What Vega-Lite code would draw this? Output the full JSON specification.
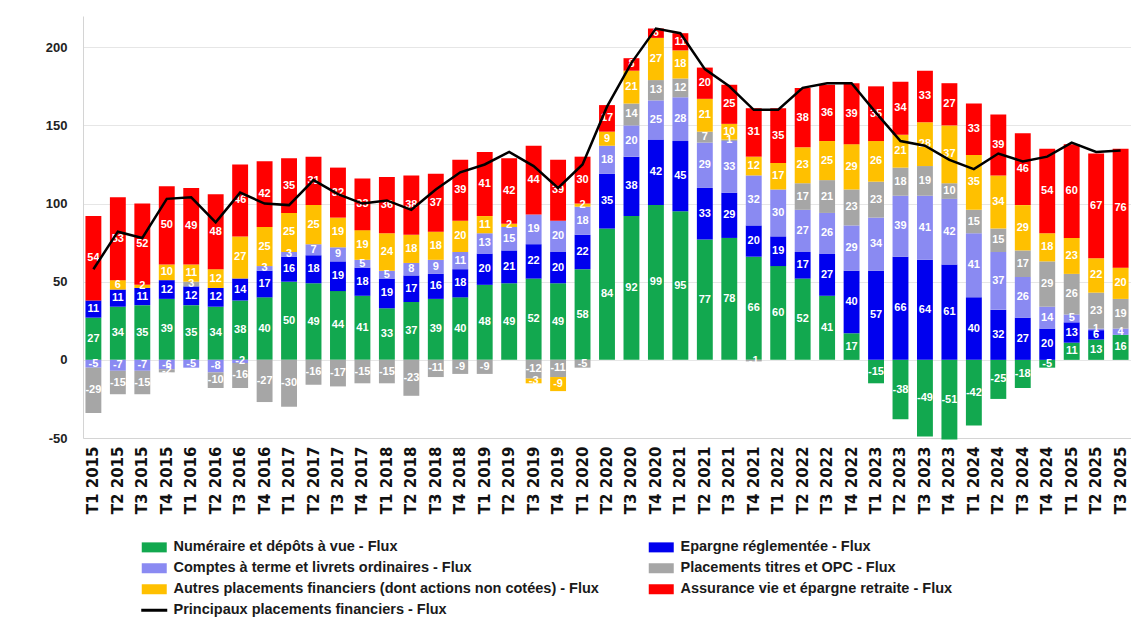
{
  "$schema": "https://vega.github.io/schema/vega-lite/v6.json",
  "width": 1048,
  "height": 422,
  "autosize": {"type": "none"},
  "padding": {"left": 83, "top": 16, "right": 0, "bottom": 179},
  "background": "white",
  "config": {"view": {"stroke": null}},
  "datasets": {
    "main": [
      {"q": "T1 2015", "N": 27, "E": 11, "C": -5, "P": -29, "A": 0, "V": 54, "T": 58},
      {"q": "T2 2015", "N": 34, "E": 11, "C": -7, "P": -15, "A": 6, "V": 53, "T": 82},
      {"q": "T3 2015", "N": 35, "E": 11, "C": -7, "P": -15, "A": 2, "V": 52, "T": 78},
      {"q": "T4 2015", "N": 39, "E": 12, "C": -6, "P": -2, "A": 10, "V": 50, "T": 103},
      {"q": "T1 2016", "N": 35, "E": 12, "C": -5, "P": 3, "A": 11, "V": 49, "T": 104},
      {"q": "T2 2016", "N": 34, "E": 12, "C": -8, "P": -10, "A": 12, "V": 48, "T": 88},
      {"q": "T3 2016", "N": 38, "E": 14, "C": -2, "P": -16, "A": 27, "V": 46, "T": 107},
      {"q": "T4 2016", "N": 40, "E": 17, "C": 3, "P": -27, "A": 25, "V": 42, "T": 100},
      {"q": "T1 2017", "N": 50, "E": 16, "C": 3, "P": -30, "A": 25, "V": 35, "T": 99},
      {"q": "T2 2017", "N": 49, "E": 18, "C": 7, "P": -16, "A": 25, "V": 31, "T": 115},
      {"q": "T3 2017", "N": 44, "E": 19, "C": 9, "P": -17, "A": 19, "V": 32, "T": 106},
      {"q": "T4 2017", "N": 41, "E": 18, "C": 5, "P": -15, "A": 19, "V": 33, "T": 100},
      {"q": "T1 2018", "N": 33, "E": 19, "C": 5, "P": -15, "A": 24, "V": 36, "T": 102},
      {"q": "T2 2018", "N": 37, "E": 17, "C": 8, "P": -23, "A": 18, "V": 38, "T": 96},
      {"q": "T3 2018", "N": 39, "E": 16, "C": 9, "P": -11, "A": 18, "V": 37, "T": 109},
      {"q": "T4 2018", "N": 40, "E": 18, "C": 11, "P": -9, "A": 20, "V": 39, "T": 120},
      {"q": "T1 2019", "N": 48, "E": 20, "C": 13, "P": -9, "A": 11, "V": 41, "T": 125},
      {"q": "T2 2019", "N": 49, "E": 21, "C": 15, "P": 0, "A": 2, "V": 42, "T": 133},
      {"q": "T3 2019", "N": 52, "E": 22, "C": 19, "P": -12, "A": -3, "V": 44, "T": 124},
      {"q": "T4 2019", "N": 49, "E": 20, "C": 20, "P": -11, "A": -9, "V": 39, "T": 110},
      {"q": "T1 2020", "N": 58, "E": 22, "C": 18, "P": -5, "A": 2, "V": 30, "T": 125},
      {"q": "T2 2020", "N": 84, "E": 35, "C": 18, "P": 0, "A": 9, "V": 17, "T": 162},
      {"q": "T3 2020", "N": 92, "E": 38, "C": 20, "P": 14, "A": 21, "V": 8, "T": 190},
      {"q": "T4 2020", "N": 99, "E": 42, "C": 25, "P": 13, "A": 27, "V": 6, "T": 212},
      {"q": "T1 2021", "N": 95, "E": 45, "C": 28, "P": 12, "A": 18, "V": 11, "T": 209},
      {"q": "T2 2021", "N": 77, "E": 33, "C": 29, "P": 7, "A": 21, "V": 20, "T": 186},
      {"q": "T3 2021", "N": 78, "E": 29, "C": 33, "P": 1, "A": 10, "V": 25, "T": 175},
      {"q": "T4 2021", "N": 66, "E": 20, "C": 32, "P": -1, "A": 12, "V": 31, "T": 160},
      {"q": "T1 2022", "N": 60, "E": 19, "C": 30, "P": 0, "A": 17, "V": 35, "T": 160},
      {"q": "T2 2022", "N": 52, "E": 17, "C": 27, "P": 17, "A": 23, "V": 38, "T": 174},
      {"q": "T3 2022", "N": 41, "E": 27, "C": 26, "P": 21, "A": 25, "V": 36, "T": 177},
      {"q": "T4 2022", "N": 17, "E": 40, "C": 29, "P": 23, "A": 29, "V": 39, "T": 177},
      {"q": "T1 2023", "N": -15, "E": 57, "C": 34, "P": 23, "A": 26, "V": 35, "T": 158},
      {"q": "T2 2023", "N": -38, "E": 66, "C": 39, "P": 18, "A": 21, "V": 34, "T": 140},
      {"q": "T3 2023", "N": -49, "E": 64, "C": 41, "P": 19, "A": 28, "V": 33, "T": 137},
      {"q": "T4 2023", "N": -51, "E": 61, "C": 42, "P": 10, "A": 37, "V": 27, "T": 128},
      {"q": "T1 2024", "N": -42, "E": 40, "C": 41, "P": 15, "A": 35, "V": 33, "T": 122},
      {"q": "T2 2024", "N": -25, "E": 32, "C": 37, "P": 15, "A": 34, "V": 39, "T": 132},
      {"q": "T3 2024", "N": -18, "E": 27, "C": 26, "P": 17, "A": 29, "V": 46, "T": 127},
      {"q": "T4 2024", "N": -5, "E": 20, "C": 14, "P": 29, "A": 18, "V": 54, "T": 130},
      {"q": "T1 2025", "N": 11, "E": 13, "C": 5, "P": 26, "A": 23, "V": 60, "T": 139},
      {"q": "T2 2025", "N": 13, "E": 6, "C": 1, "P": 23, "A": 22, "V": 67, "T": 133},
      {"q": "T3 2025", "N": 16, "E": 0, "C": 4, "P": 19, "A": 20, "V": 76, "T": 134}
    ],
    "series": [
      {"k": "N", "ord": 1, "name": "Numéraire et dépôts à vue - Flux"},
      {"k": "E", "ord": 2, "name": "Epargne réglementée - Flux"},
      {"k": "C", "ord": 3, "name": "Comptes à terme et livrets ordinaires - Flux"},
      {"k": "P", "ord": 4, "name": "Placements titres et OPC - Flux"},
      {"k": "A", "ord": 5, "name": "Autres placements financiers (dont actions non cotées) - Flux"},
      {"k": "V", "ord": 6, "name": "Assurance vie et épargne retraite - Flux"}
    ]
  },
  "data": {"name": "main"},
  "transform": [
    {"fold": ["N", "E", "C", "P", "A", "V"], "as": ["k", "v"]},
    {"lookup": "k", "from": {"data": {"name": "series"}, "key": "k", "fields": ["name", "ord"]}},
    {"stack": "v", "groupby": ["q"], "sort": [{"field": "ord", "order": "ascending"}], "as": ["y0", "y1"]},
    {"calculate": "(datum.y0 + datum.y1) / 2", "as": "mid"}
  ],
  "encoding": {
    "x": {
      "field": "q",
      "type": "nominal",
      "sort": null,
      "scale": {"paddingInner": 0.35, "paddingOuter": 0.1},
      "axis": {
        "title": null,
        "labelAngle": -90,
        "ticks": false,
        "domain": true,
        "domainColor": "#d4d4d4",
        "labelPadding": 8,
        "labelFont": "DejaVu Sans",
        "labelFontSize": 15,
        "labelFontWeight": "bold",
        "labelColor": "#111111",
        "grid": false
      }
    }
  },
  "layer": [
    {
      "mark": {"type": "bar"},
      "encoding": {
        "y": {
          "field": "y0",
          "type": "quantitative",
          "scale": {"domain": [-50, 220], "nice": false},
          "axis": {
            "title": null,
            "values": [-50, 0, 50, 100, 150, 200],
            "labelExpr": "replace(datum.label, '\u2212', '-')",
            "grid": true,
            "gridColor": "#e6e6e6",
            "domain": true,
            "domainColor": "#d4d4d4",
            "ticks": false,
            "labelPadding": 16,
            "labelFont": "Liberation Sans",
            "labelFontSize": 13,
            "labelFontWeight": "bold",
            "labelColor": "#222222"
          }
        },
        "y2": {"field": "y1"},
        "color": {
          "field": "name",
          "type": "nominal",
          "scale": {
            "domain": [
              "Numéraire et dépôts à vue - Flux",
              "Epargne réglementée - Flux",
              "Comptes à terme et livrets ordinaires - Flux",
              "Placements titres et OPC - Flux",
              "Autres placements financiers (dont actions non cotées) - Flux",
              "Assurance vie et épargne retraite - Flux",
              "Principaux placements financiers - Flux"
            ],
            "range": ["#12A84F", "#0000EE", "#8A8AF2", "#A6A6A6", "#FFC000", "#FF0000", "#000000"]
          },
          "legend": {
            "orient": "none",
            "legendX": 64,
            "legendY": 524,
            "direction": "horizontal",
            "columns": 2,
            "title": null,
            "padding": 0,
            "labelFont": "Liberation Sans",
            "labelFontSize": 14.5,
            "labelFontWeight": "bold",
            "labelColor": "#1a1a1a",
            "labelLimit": 700,
            "symbolSize": 100,
            "labelOffset": 12,
            "rowPadding": 6,
            "columnPadding": 49,
            "encode": {
              "symbols": {
                "update": {
                  "shape": {"signal": "datum.value === 'Principaux placements financiers - Flux' ? 'M-2.6,0H2.6' : 'M-2.5,-1H2.5V1H-2.5Z'"},
                  "fill": {"signal": "datum.value === 'Principaux placements financiers - Flux' ? 'transparent' : scale('color', datum.value)"},
                  "stroke": {"signal": "datum.value === 'Principaux placements financiers - Flux' ? '#000000' : 'transparent'"},
                  "strokeWidth": {"signal": "datum.value === 'Principaux placements financiers - Flux' ? 3 : 0"},
                  "opacity": {"value": 1}
                }
              }
            }
          }
        }
      }
    },
    {
      "transform": [{"filter": "datum.v != 0"}],
      "mark": {"type": "text", "font": "Liberation Sans", "fontSize": 11, "fontWeight": "bold", "color": "white", "baseline": "middle"},
      "encoding": {
        "y": {"field": "mid", "type": "quantitative"},
        "text": {"field": "v", "type": "nominal"}
      }
    },
    {
      "transform": [{"filter": "datum.k === 'N'"}],
      "mark": {"type": "line", "strokeWidth": 2.5},
      "encoding": {
        "y": {"field": "T", "type": "quantitative"},
        "color": {"datum": "Principaux placements financiers - Flux"}
      }
    }
  ]
}
